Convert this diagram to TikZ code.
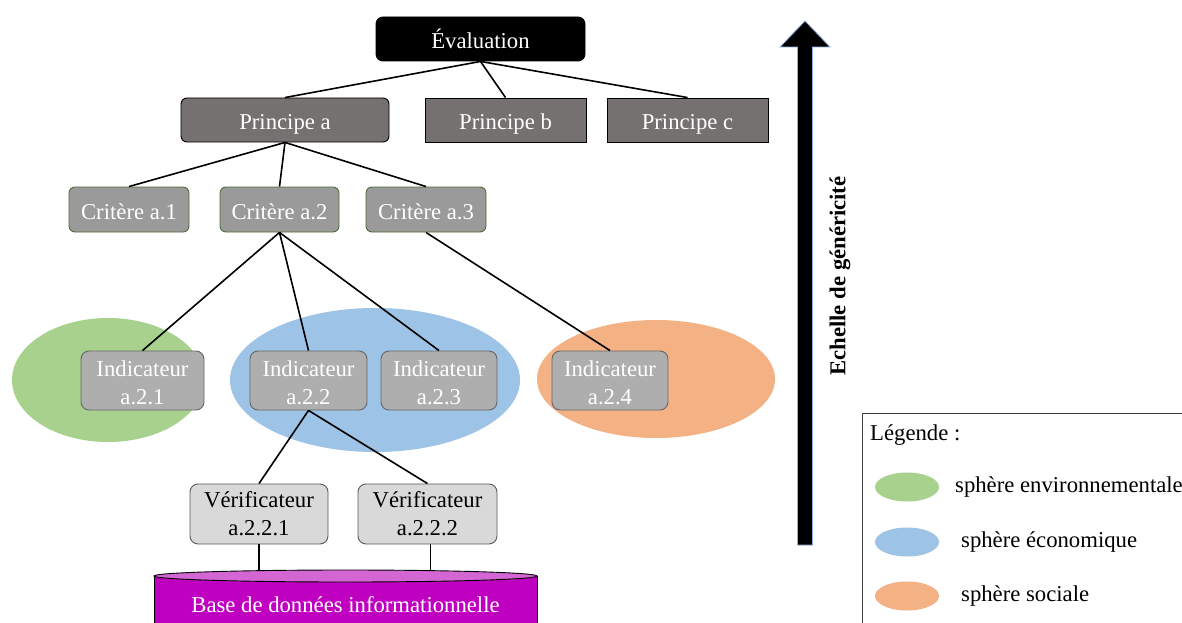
\documentclass[tikz,border=0pt]{standalone}
\usepackage{fontspec}
\setmainfont{Liberation Serif}
\definecolor{prin}{HTML}{767171}
\definecolor{crit}{HTML}{9A9A9A}
\definecolor{critb}{HTML}{4E6B3A}
\definecolor{indf}{HTML}{AEAEAE}
\definecolor{indb}{HTML}{666666}
\definecolor{verf}{HTML}{D9D9D9}
\definecolor{verb}{HTML}{595959}
\definecolor{envc}{HTML}{A9D18E}
\definecolor{ecoc}{HTML}{9DC3E6}
\definecolor{socc}{HTML}{F4B183}
\definecolor{dbf}{HTML}{C000C0}
\definecolor{dbt}{HTML}{D466D4}
\definecolor{arrb}{HTML}{8FAADC}
\begin{document}
\begin{tikzpicture}[x=1pt,y=-1pt,
  every node/.style={font=\fontsize{22.7}{28}\selectfont, inner sep=0pt},
  box/.style={draw, line width=0.9pt, minimum height=44pt},
  evalbox/.style={box, fill=black, text=white, rounded corners=7pt, minimum width=209pt},
  prinbox/.style={box, fill=prin, draw=black, text=white, minimum width=161pt, text height=18pt, text depth=0pt},
  critbox/.style={box, fill=crit, draw=critb, text=white, rounded corners=6pt, minimum height=45pt, text height=19pt, text depth=0pt},
  indbox/.style={box, fill=indf, draw=indb, text=white, rounded corners=8pt, minimum height=59pt, align=center},
  verbox/.style={box, fill=verf, draw=verb, text=black, rounded corners=8pt, minimum height=60pt, align=center},
  link/.style={draw=black, line width=1.6pt},
  legtext/.style={anchor=west, text=black}
]
\clip (0,0) rectangle (1182,623);
\fill[white] (0,0) rectangle (1182,623);

% spheres
\fill[envc] (108,380) ellipse [x radius=96, y radius=62];
\fill[ecoc] (375,380) ellipse [x radius=145, y radius=72];
\fill[socc] (656,379) ellipse [x radius=119, y radius=59];

% nodes
\node[evalbox] (ev) at (480.5,39) {Évaluation};
\node[prinbox, rounded corners=6pt, minimum width=208pt] (pa) at (285,120) {Principe a};
\node[prinbox] (pb) at (505.5,120) {Principe b};
\node[prinbox] (pc) at (687.5,120) {Principe c};

\node[critbox, minimum width=120pt] (c1) at (129,209.5) {Critère a.1};
\node[critbox, minimum width=119pt] (c2) at (279.5,209.5) {Critère a.2};
\node[critbox, minimum width=120pt] (c3) at (426,209.5) {Critère a.3};

\node[indbox, minimum width=123pt] (i1) at (142.5,380.5) {\rule{0pt}{20pt}Indicateur\\a.2.1};
\node[indbox, minimum width=117pt] (i2) at (308.5,380.5) {\rule{0pt}{20pt}Indicateur\\a.2.2};
\node[indbox, minimum width=116pt] (i3) at (439,380.5) {\rule{0pt}{20pt}Indicateur\\a.2.3};
\node[indbox, minimum width=116pt] (i4) at (610,380.5) {\rule{0pt}{20pt}Indicateur\\a.2.4};

\node[verbox, minimum width=138pt] (v1) at (259,514) {Vérificateur\\a.2.2.1};
\node[verbox, minimum width=139pt] (v2) at (427.5,514) {Vérificateur\\a.2.2.2};

% database cylinder
\filldraw[fill=dbf, draw=black, line width=0.9pt] (154,576) -- (154,640) -- (537,640) -- (537,576) -- cycle;
\filldraw[fill=dbt, draw=black, line width=0.9pt] (345.5,576) ellipse [x radius=191.5, y radius=6];
\coordinate (dbtop) at (345.5,571);
\node[text=white] (db) at (345.5,605) {Base de données informationnelle};

% connectors
\draw[link] (ev.south) -- (pa.north);
\draw[link] (ev.south) -- (pb.north);
\draw[link] (ev.south) -- (pc.north);
\draw[link] (pa.south) -- (c1.north);
\draw[link] (pa.south) -- (c2.north);
\draw[link] (pa.south) -- (c3.north);
\draw[link] (c2.south) -- (i1.north);
\draw[link] (c2.south) -- (i2.north);
\draw[link] (c2.south) -- (i3.north);
\draw[link] (c3.south) -- (i4.north);
\draw[link] (i2.south) -- (v1.north);
\draw[link] (i2.south) -- (v2.north);
\draw[link] (v1.south) -- (v1.south |- dbtop);
\draw[link] ([xshift=3pt]v2.south) -- ([xshift=3pt]v2.south |- dbtop);

% genericity arrow
\filldraw[fill=black, draw=arrb, line width=0.8pt]
  (797.5,545) -- (797.5,47) -- (780,47) -- (805,21) -- (830,47) -- (812.5,47) -- (812.5,545) -- cycle;
\node[rotate=90, font=\fontsize{22.7}{28}\selectfont\bfseries] (scale) at (840,276) {Echelle de généricité};

% legend
\draw[draw=black!75, line width=0.9pt] (862,413) rectangle (1200,640);
\node[legtext] (lt) at (870,435) {Légende :};
\fill[envc] (907,487) ellipse [x radius=32, y radius=14.5];
\fill[ecoc] (907,542) ellipse [x radius=32, y radius=14.5];
\fill[socc] (907,596) ellipse [x radius=32, y radius=14.5];
\node[legtext] (l1) at (955,487) {sphère environnementale};
\node[legtext] (l2) at (961,542) {sphère économique};
\node[legtext] (l3) at (961,596) {sphère sociale};
\end{tikzpicture}
\end{document}
